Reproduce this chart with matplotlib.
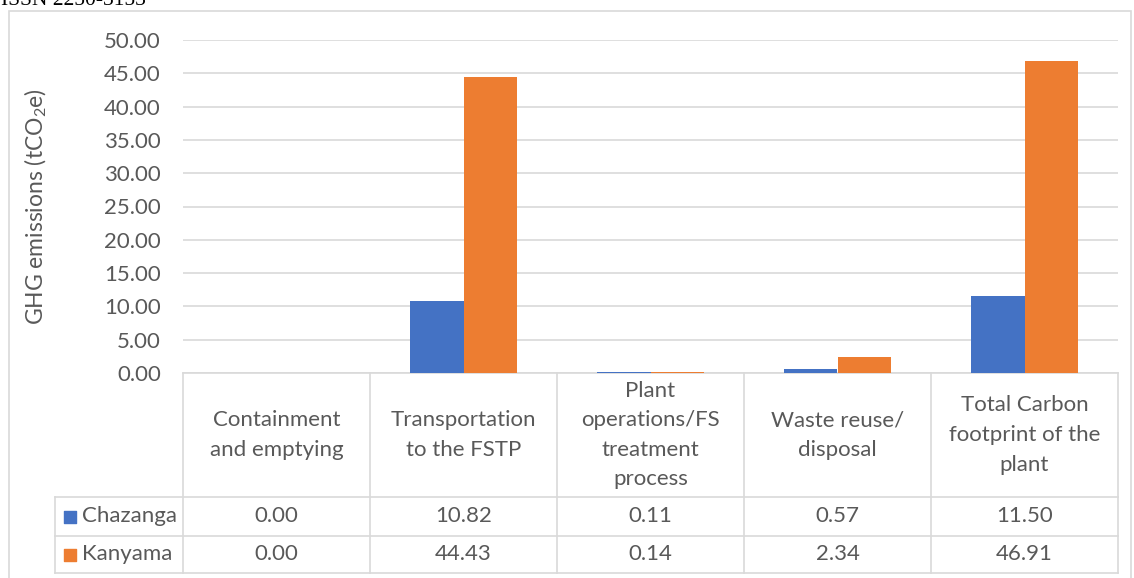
import numpy as np
import matplotlib
matplotlib.use("Agg")
import matplotlib.pyplot as plt
from matplotlib.patches import Rectangle

categories = ["Containment\nand emptying", "Transportation\nto the FSTP",
              "Plant\noperations/FS\ntreatment\nprocess", "Waste reuse/\ndisposal",
              "Total Carbon\nfootprint of the\nplant"]
series = ["Chazanga", "Kanyama"]
chazanga = [0.00, 10.82, 0.11, 0.57, 11.50]
kanyama = [0.00, 44.43, 0.14, 2.34, 46.91]
colors = ["#4472C4", "#ED7D31"]
yticks = np.arange(0, 55, 5)

plt.rcParams["font.family"] = ["Lato", "DejaVu Sans"]
plt.rcParams["mathtext.fontset"] = "custom"
plt.rcParams["mathtext.rm"] = "Lato"
plt.rcParams["mathtext.it"] = "Lato:italic"

W, H = 1134, 578
txt = "#595959"
grid = "#d9d9d9"
fs = 16

fig = plt.figure(figsize=(W / 100, H / 100), dpi=100)

# outer chart frame and page header
fig.patches.append(Rectangle((9 / W, -0.05), (1131 - 9) / W, 1.05 - 11 / H,
                             transform=fig.transFigure, fill=False,
                             edgecolor=grid, lw=1.2))
fig.text(1 / W, 1 - 5 / H, "ISSN 2250-3153", family="Liberation Serif",
         fontsize=15.5, color="black", va="baseline", ha="left")

# bar plot
ax = fig.add_axes([183 / W, 1 - 373 / H, (1118 - 183) / W, (373 - 40) / H])
x = np.arange(len(categories))
w = 0.2857
ax.bar(x - w / 2, chazanga, w, color=colors[0], zorder=3)
ax.bar(x + w / 2, kanyama, w, color=colors[1], zorder=3)
ax.set_xlim(-0.5, len(categories) - 0.5)
ax.set_ylim(0, 50)
ax.set_yticks(yticks)
ax.set_yticklabels(["%.2f" % v for v in yticks])
ax.set_xticks([])
ax.tick_params(axis="y", length=0, pad=16, labelsize=fs, labelcolor=txt)
ax.grid(axis="y", color=grid, lw=1.2, zorder=0)
for s in ["top", "right", "left"]:
    ax.spines[s].set_visible(False)
ax.spines["bottom"].set_color(grid)
ax.spines["bottom"].set_linewidth(1.2)
fig.text(36 / W, 1 - 207 / H, r"GHG emissions (tCO$_2$e)", rotation=90,
         ha="center", va="center", fontsize=16.5, color=txt)

# data table under the plot
row_edges = [373, 497, 536, 573]
leg_left = -0.5 - (183 - 55) / 187
tab = fig.add_axes([183 / W, 1 - 573 / H, (1118 - 183) / W, (573 - 373) / H])
tab.set_xlim(-0.5, len(categories) - 0.5)
tab.set_ylim(row_edges[-1], row_edges[0])
tab.axis("off")
for i in range(len(categories) + 1):
    tab.plot([i - 0.5, i - 0.5], [row_edges[0], row_edges[-1]], color=grid,
             lw=1.2, clip_on=False)
for y in row_edges[1:]:
    tab.plot([leg_left, len(categories) - 0.5], [y, y], color=grid, lw=1.2,
             clip_on=False)
tab.plot([leg_left, leg_left], [row_edges[1], row_edges[-1]], color=grid,
         lw=1.2, clip_on=False)

for i, c in enumerate(categories):
    tab.text(i, (row_edges[0] + row_edges[1]) / 2, c, ha="center", va="center",
             fontsize=fs, color=txt, linespacing=1.6)

for r, (name, vals) in enumerate(zip(series, [chazanga, kanyama])):
    yc = (row_edges[r + 1] + row_edges[r + 2]) / 2
    for i, v in enumerate(vals):
        tab.text(i, yc, "%.2f" % v, ha="center", va="center", fontsize=fs,
                 color=txt)
    tab.scatter([leg_left + 15 / 187], [yc], marker="s", s=85,
                color=colors[r], clip_on=False)
    tab.text(leg_left + 27 / 187, yc, name, ha="left", va="center",
             fontsize=fs, color=txt)

fig.savefig("out.png", dpi=100)
